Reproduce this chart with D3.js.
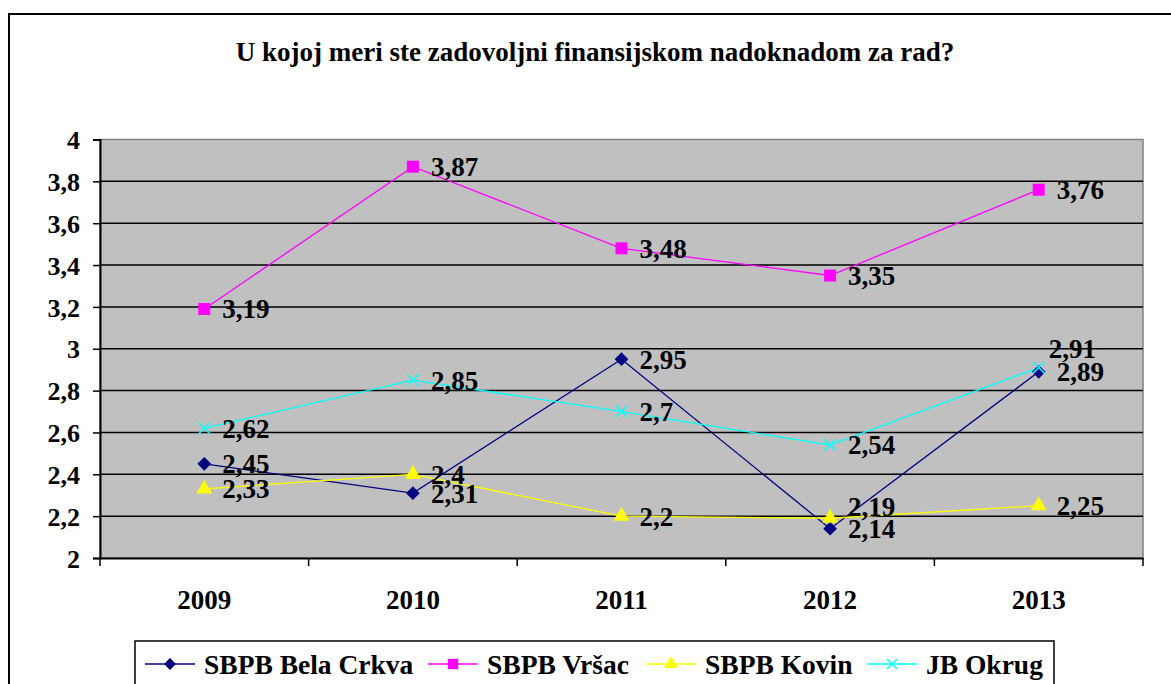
<!DOCTYPE html>
<html>
<head>
<meta charset="utf-8">
<script src="https://cdnjs.cloudflare.com/ajax/libs/d3/7.8.5/d3.min.js"></script>
<style>
body { margin: 0; background: #fff; }
text { font-family: "Liberation Serif", "Times New Roman", serif; font-weight: bold; }
</style>
</head>
<body>
<div id="chart"></div>
<script>
// podaci
var years = ["2009", "2010", "2011", "2012", "2013"];
var belaCrkva = [2.45, 2.31, 2.95, 2.14, 2.89];
var vrsac = [3.19, 3.87, 3.48, 3.35, 3.76];
var kovin = [2.33, 2.4, 2.2, 2.19, 2.25];
var jbOkrug = [2.62, 2.85, 2.7, 2.54, 2.91];
var seriesNames = ["SBPB Bela Crkva", "SBPB Vršac", "SBPB Kovin", "JB Okrug"];
var yTicks = [2, 2.2, 2.4, 2.6, 2.8, 3, 3.2, 3.4, 3.6, 3.8, 4];
var title = "U kojoj meri ste zadovoljni finansijskom nadoknadom za rad?";

function drawChart() {
    var w = 1171;
    var h = 684;
    var pLeft = 100, pRight = 1143, pTop = 139.5, pBottom = 558;

    var series = [
        {name: seriesNames[0], values: belaCrkva, color: "#000080", symbol: d3.symbolDiamond2, size: 120},
        {name: seriesNames[1], values: vrsac, color: "#ff00ff", symbol: d3.symbolSquare, size: 144},
        {name: seriesNames[2], values: kovin, color: "#ffff00", symbol: d3.symbolTriangle, size: 110},
        {name: seriesNames[3], values: jbOkrug, color: "#00ffff", symbol: d3.symbolTimes, size: 90}
    ];

    // rucno pomerene etikete (kao u Excelu)
    var labelShift = {"3-4": [-8, -19], "2-3": [0, -12]};

    var svg = d3.select("#chart").append("svg")
        .attr("width", w)
        .attr("height", h);

    // okvir grafikona
    svg.append("rect")
        .attr("x", 9).attr("y", 14)
        .attr("width", 1200).attr("height", 720)
        .attr("fill", "#fff")
        .attr("stroke", "#000")
        .attr("stroke-width", 2);

    svg.append("text")
        .attr("x", 595)
        .attr("y", 61)
        .attr("text-anchor", "middle")
        .attr("font-size", 27)
        .text(title);

    var x = d3.scaleBand().domain(years).range([pLeft, pRight]);
    var y = d3.scaleLinear().domain([2, 4]).range([pBottom, pTop]);

    // siva pozadina
    svg.append("rect")
        .attr("x", pLeft).attr("y", pTop)
        .attr("width", pRight - pLeft).attr("height", pBottom - pTop)
        .attr("fill", "#c0c0c0")
        .attr("stroke", "#808080")
        .attr("stroke-width", 1.5);

    // mreza
    svg.append("g")
        .selectAll("line")
        .data(yTicks.slice(1, -1))
        .join("line")
        .attr("x1", pLeft).attr("x2", pRight)
        .attr("y1", d => y(d)).attr("y2", d => y(d))
        .attr("stroke", "#000")
        .attr("stroke-width", 1.5);

    var fmt = d => String(d).replace(".", ",");

    var yAxis = svg.append("g")
        .attr("transform", "translate(" + pLeft + ",0)")
        .call(d3.axisLeft(y).tickValues(yTicks).tickFormat(fmt).tickSize(7).tickPadding(13));
    yAxis.select(".domain").attr("stroke", "#000").attr("stroke-width", 2);
    yAxis.selectAll(".tick line").attr("stroke", "#000").attr("stroke-width", 1.5);
    yAxis.selectAll("text").attr("font-size", 26).attr("fill", "#000")
        .attr("font-family", "Liberation Serif").attr("dy", "0.35em");

    var xAxis = svg.append("g")
        .attr("transform", "translate(0," + pBottom + ")")
        .call(d3.axisBottom(x).tickSize(0).tickPadding(32));
    xAxis.select(".domain").attr("stroke", "#000").attr("stroke-width", 2);
    xAxis.selectAll("text").attr("font-size", 27).attr("fill", "#000")
        .attr("font-family", "Liberation Serif");
    // podeoci izmedju kategorija
    xAxis.selectAll(".sep")
        .data(d3.range(years.length + 1))
        .join("line")
        .attr("class", "sep")
        .attr("x1", i => pLeft + i * x.step()).attr("x2", i => pLeft + i * x.step())
        .attr("y1", 0).attr("y2", 8)
        .attr("stroke", "#000")
        .attr("stroke-width", 1.5);

    var line = d3.line()
        .x((d, i) => x(years[i]) + x.bandwidth() / 2)
        .y(d => y(d));

    var g = svg.append("g");
    series.forEach(function(s) {
        g.append("path")
            .attr("d", line(s.values))
            .attr("fill", "none")
            .attr("stroke", s.color)
            .attr("stroke-width", 1.3);
    });

    series.forEach(function(s, si) {
        var sym = d3.symbol().type(s.symbol).size(s.size);
        g.selectAll(".m" + si)
            .data(s.values)
            .join("path")
            .attr("class", "m" + si)
            .attr("transform", (d, i) => "translate(" + (x(years[i]) + x.bandwidth() / 2) + "," + y(d) + ")")
            .attr("d", sym)
            .attr("fill", s.symbol === d3.symbolTimes ? "none" : s.color)
            .attr("stroke", s.color)
            .attr("stroke-width", s.symbol === d3.symbolTimes ? 1.5 : 0);
    });

    // etikete vrednosti
    series.forEach(function(s, si) {
        g.selectAll(".l" + si)
            .data(s.values)
            .join("text")
            .attr("class", "l" + si)
            .attr("x", (d, i) => x(years[i]) + x.bandwidth() / 2 + 18 + (labelShift[si + "-" + i] || [0, 0])[0])
            .attr("y", (d, i) => y(d) + (labelShift[si + "-" + i] || [0, 0])[1])
            .attr("dy", "0.35em")
            .attr("font-size", 27)
            .attr("fill", "#000")
            .text(fmt);
    });

    // legenda
    svg.append("rect")
        .attr("x", 135).attr("y", 641)
        .attr("width", 919).attr("height", 70)
        .attr("fill", "#fff")
        .attr("stroke", "#000")
        .attr("stroke-width", 1.5);

    var legendX = [145, 428, 646, 867];
    series.forEach(function(s, si) {
        var lg = svg.append("g").attr("transform", "translate(" + legendX[si] + ",664)");
        lg.append("line")
            .attr("x1", 0).attr("x2", 50)
            .attr("stroke", s.color).attr("stroke-width", 1.5);
        lg.append("path")
            .attr("transform", "translate(25,0)")
            .attr("d", d3.symbol().type(s.symbol).size(s.size * 0.75))
            .attr("fill", s.symbol === d3.symbolTimes ? "none" : s.color)
            .attr("stroke", s.color)
            .attr("stroke-width", s.symbol === d3.symbolTimes ? 1.5 : 0);
        lg.append("text")
            .attr("x", 59)
            .attr("dy", "0.35em")
            .attr("font-size", 27.5)
            .attr("fill", "#000")
            .text(s.name);
    });
}
drawChart();
</script>
</body>
</html>
